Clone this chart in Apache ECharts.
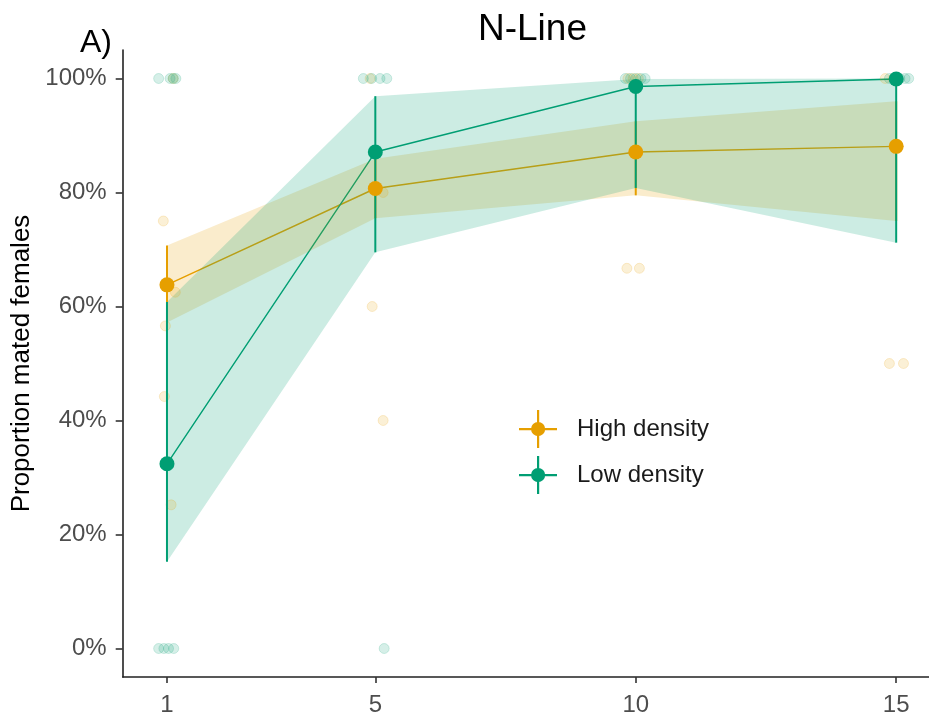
<!DOCTYPE html>
<html>
<head>
<meta charset="utf-8">
<script src="https://cdn.jsdelivr.net/npm/echarts@6/dist/echarts.min.js"></script>
<style>
  html, body { margin: 0; padding: 0; background: #fff; }
  #main { width: 929px; height: 717px; }
</style>
</head>
<body>
<div id="main"></div>
<script>
// density (x) and proportions in percent
const doses = [1, 5, 10, 15];
const yTicks = [0, 20, 40, 60, 80, 100];

const highMean = [63.8, 80.7, 87.1, 88.1];
const highLower = [57.2, 75.5, 79.5, 75.0];
const highUpper = [70.7, 85.9, 92.5, 96.0];

const lowMean = [32.4, 87.1, 98.6, 99.9];
const lowLower = [15.2, 69.5, 80.8, 71.2];
const lowUpper = [60.8, 96.9, 99.9, 100];

// jittered raw observations [x, percent]
const highRaw = [
  [0.93, 75], [1.16, 62.5], [0.97, 56.6], [0.95, 44.2], [1.08, 25.2], [1.12, 100],
  [4.9, 100], [4.94, 60], [5.15, 80], [5.15, 40],
  [9.85, 100], [9.95, 100], [10.05, 100], [9.83, 66.7], [10.07, 66.7],
  [14.79, 100], [14.95, 100], [14.87, 50], [15.14, 50]
];
const lowRaw = [
  [0.84, 100], [1.06, 100], [1.12, 100], [1.17, 100],
  [0.84, 0], [0.94, 0], [1.03, 0], [1.13, 0],
  [4.77, 100], [4.93, 100], [5.09, 100], [5.22, 100], [5.17, 0],
  [9.8, 100], [9.9, 100], [10.0, 100], [10.1, 100], [10.18, 100],
  [14.87, 100], [14.97, 100], [15.07, 100], [15.17, 100], [15.24, 100]
];

const ORANGE = "#E69F00";
const GREEN = "#009E73";
const FONT = "Liberation Sans, Arial, sans-serif";

const legendIcon =
  "path://M18,0h2.2v38h-2.2z M0,18h38v2.2h-38z M12,19.1a7,7 0 1,1 14.2,0a7,7 0 1,1 -14.2,0z";

function zip(a, b) {
  return a.map((v, i) => [v, b[i]]);
}

function ribbon(name, lower, upper, color, z) {
  return {
    type: "custom",
    name: name,
    z: z,
    silent: true,
    data: doses.map((d, i) => [d, lower[i], upper[i]]),
    renderItem: (params, api) => {
      if (params.dataIndex !== 0) return null;
      const pts = [];
      doses.forEach((d, i) => pts.push(api.coord([d, upper[i]])));
      for (let i = doses.length - 1; i >= 0; i--) {
        pts.push(api.coord([doses[i], lower[i]]));
      }
      return {
        type: "polygon",
        shape: { points: pts },
        style: { fill: color, opacity: 0.2 }
      };
    }
  };
}

function errorBars(name, lower, upper, color, z) {
  return {
    type: "custom",
    name: name,
    z: z,
    silent: true,
    data: doses.map((d, i) => [d, lower[i], upper[i]]),
    renderItem: (params, api) => {
      const lo = api.coord([api.value(0), api.value(1)]);
      const hi = api.coord([api.value(0), api.value(2)]);
      return {
        type: "line",
        shape: { x1: lo[0], y1: lo[1], x2: hi[0], y2: hi[1] },
        style: { stroke: color, lineWidth: 2 }
      };
    }
  };
}

function meanLine(name, means, color, z) {
  return {
    type: "line",
    name: name,
    z: z,
    silent: true,
    data: zip(doses, means),
    showSymbol: false,
    lineStyle: { color: color, width: 1.4 }
  };
}

function meanPoints(name, means, color, z) {
  return {
    type: "scatter",
    name: name,
    z: z,
    data: zip(doses, means),
    symbol: "circle",
    symbolSize: 15,
    itemStyle: { color: color, opacity: 1 }
  };
}

function rawPoints(name, pts, rgb, z) {
  return {
    type: "scatter",
    name: name,
    z: z,
    silent: true,
    data: pts,
    symbolSize: 10,
    itemStyle: {
      color: "rgba(" + rgb + ",0.2)",
      borderColor: "rgba(" + rgb + ",0.22)",
      borderWidth: 1
    }
  };
}

const chart = echarts.init(document.getElementById("main"));

chart.setOption({
  animation: false,
  backgroundColor: "#fff",
  title: {
    text: "N-Line",
    left: 473,
    top: 6,
    textStyle: { fontFamily: FONT, fontSize: 37, fontWeight: "normal", color: "#000" }
  },
  graphic: [
    {
      type: "text",
      left: 80,
      top: 27,
      style: { text: "A)", font: "32px " + FONT, fill: "#000" }
    }
  ],
  legend: {
    orient: "vertical",
    left: 514,
    top: 405,
    itemWidth: 38,
    itemHeight: 38,
    itemGap: 8,
    icon: legendIcon,
    data: ["High density", "Low density"],
    textStyle: { fontFamily: FONT, fontSize: 24, color: "#1a1a1a", padding: [0, 0, 0, 15] }
  },
  grid: { left: 122.7, right: 0, top: 50, bottom: 39.3 },
  xAxis: {
    type: "value",
    min: 0.15,
    max: 15.63,
    splitLine: { show: false },
    axisLine: { onZero: false, lineStyle: { color: "#222", width: 1.6 } },
    axisTick: { customValues: doses, length: 6, lineStyle: { color: "#333", width: 1.6 } },
    axisLabel: {
      customValues: doses,
      margin: 16,
      fontFamily: FONT,
      fontSize: 24,
      color: "#4D4D4D"
    }
  },
  yAxis: {
    type: "value",
    min: -5,
    max: 105,
    name: "Proportion mated females",
    nameLocation: "middle",
    nameGap: 87,
    nameTextStyle: { fontFamily: FONT, fontSize: 26, color: "#000" },
    splitLine: { show: false },
    axisLine: { show: true, onZero: false, lineStyle: { color: "#222", width: 1.6 } },
    axisTick: { show: true, customValues: yTicks, length: 7, lineStyle: { color: "#333", width: 1.6 } },
    axisLabel: {
      customValues: yTicks,
      margin: 16,
      fontFamily: FONT,
      fontSize: 24,
      color: "#4D4D4D",
      formatter: (v) => v + "%"
    }
  },
  series: [
    meanLine("High line", highMean, ORANGE, 1),
    meanLine("Low line", lowMean, GREEN, 1),
    ribbon("High band", highLower, highUpper, ORANGE, 2),
    ribbon("Low band", lowLower, lowUpper, GREEN, 2),
    rawPoints("High raw", highRaw, "230,159,0", 3),
    rawPoints("Low raw", lowRaw, "0,158,115", 3),
    errorBars("High bars", highLower, highUpper, ORANGE, 4),
    errorBars("Low bars", lowLower, lowUpper, GREEN, 4),
    meanPoints("High density", highMean, ORANGE, 5),
    meanPoints("Low density", lowMean, GREEN, 5)
  ]
});

window.addEventListener("resize", () => chart.resize());
</script>
</body>
</html>
